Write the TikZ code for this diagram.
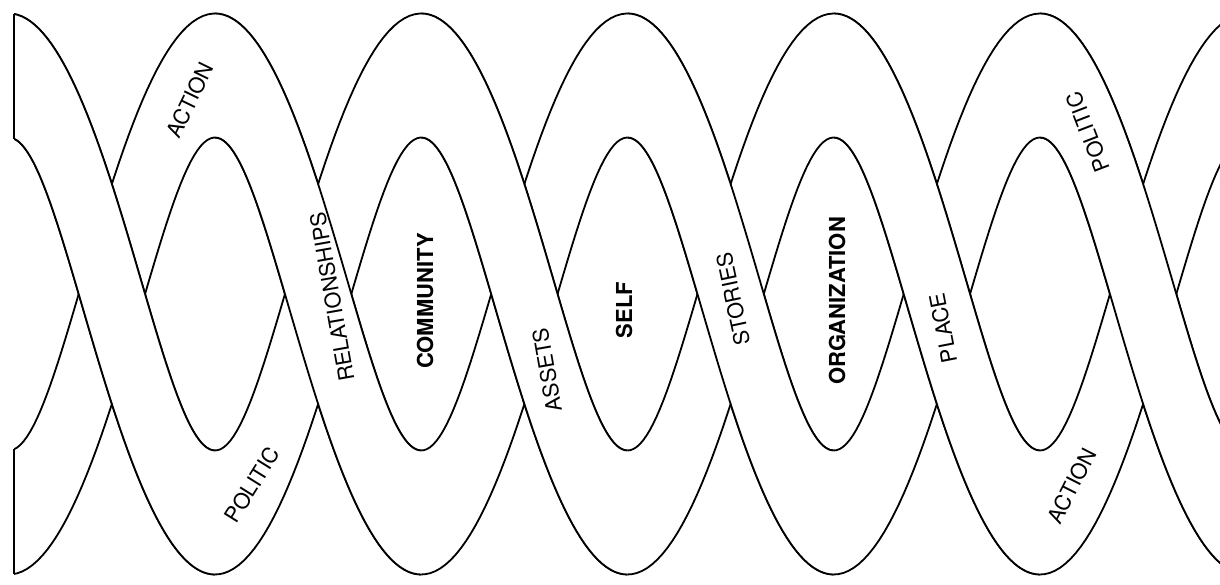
\documentclass[tikz,border=0pt]{standalone}
\usepackage{fontspec}
\setmainfont{TeX Gyre Heros}
\tikzset{
  declare function={
    xp(\t)=215+1.145833*\t+14.9*sin(\t);
    xm(\t)=215+1.145833*\t-14.9*sin(\t);
    yau(\t)=232-218.5*cos(\t);
    yal(\t)=356-218.5*cos(\t);
    ybu(\t)=232+218.5*cos(\t);
    ybl(\t)=356+218.5*cos(\t);
  },
  bandline/.style={line width=0.9pt, line join=round, black},
  lbl/.style={font=\fontsize{10.8}{12}\selectfont, inner sep=0pt},
  lblb/.style={font=\fontsize{11}{12}\selectfont\bfseries, inner sep=0pt},
}
\begin{document}
\begin{tikzpicture}[x=0.5pt,y=-0.5pt]
\useasboundingbox (0,0) rectangle (1220,584);
\begin{scope}
  \clip (14,-10) rectangle (1230,600);
  % back layer: whole bands
  \draw[bandline, fill=white]
    plot[domain=-200:900,samples=300,variable=\t] ({xp(\t)},{yau(\t)})
    -- plot[domain=900:-200,samples=300,variable=\t] ({xm(\t)},{yal(\t)}) -- cycle;
  \draw[bandline, fill=white]
    plot[domain=-200:900,samples=300,variable=\t] ({xm(\t)},{ybu(\t)})
    -- plot[domain=900:-200,samples=300,variable=\t] ({xp(\t)},{ybl(\t)}) -- cycle;
  % front layer: descending pieces of strand A
  \foreach \a/\b in {0/180, 360/540, 720/900}{
    \fill[white]
      plot[domain=\a:\b,samples=60,variable=\t] ({xp(\t)},{yau(\t)})
      -- plot[domain=\b:\a,samples=60,variable=\t] ({xm(\t)},{yal(\t)}) -- cycle;
    \draw[bandline] plot[domain=\a:\b,samples=60,variable=\t] ({xp(\t)},{yau(\t)});
    \draw[bandline] plot[domain=\a:\b,samples=60,variable=\t] ({xm(\t)},{yal(\t)});
  }
  % front layer: descending pieces of strand B
  \foreach \a/\b in {-180/0, 180/360, 540/720}{
    \fill[white]
      plot[domain=\a:\b,samples=60,variable=\t] ({xm(\t)},{ybu(\t)})
      -- plot[domain=\b:\a,samples=60,variable=\t] ({xp(\t)},{ybl(\t)}) -- cycle;
    \draw[bandline] plot[domain=\a:\b,samples=60,variable=\t] ({xm(\t)},{ybu(\t)});
    \draw[bandline] plot[domain=\a:\b,samples=60,variable=\t] ({xp(\t)},{ybl(\t)});
  }
\end{scope}
% left cut ends
\coordinate (tl1) at (14,14);
\coordinate (tl2) at (14,138.7);
\coordinate (bl1) at (14,449.3);
\coordinate (bl2) at (14,574);
\draw[bandline] (tl1) -- (tl2);
\draw[bandline] (bl1) -- (bl2);
% labels
\node[lbl, rotate=64]  (action1) at (190,100) {ACTION};
\node[lbl, rotate=100] (relat)   at (332,297) {RELATIONSHIPS};
\node[lblb, rotate=90] (commu)   at (425,301) {COMMUNITY};
\node[lbl, rotate=100] (assets)  at (547,370) {ASSETS};
\node[lblb, rotate=90] (self)    at (624,310) {SELF};
\node[lbl, rotate=102] (stories) at (733,299) {STORIES};
\node[lblb, rotate=90] (organ)   at (837,301) {ORGANIZATION};
\node[lbl, rotate=101] (place)   at (943,328) {PLACE};
\node[lbl, rotate=111] (politic2) at (1088,132) {POLITIC};
\node[lbl, rotate=58]  (politic1) at (252,485) {POLITIC};
\node[lbl, rotate=63]  (action2) at (1072,486) {ACTION};
\end{tikzpicture}
\end{document}
